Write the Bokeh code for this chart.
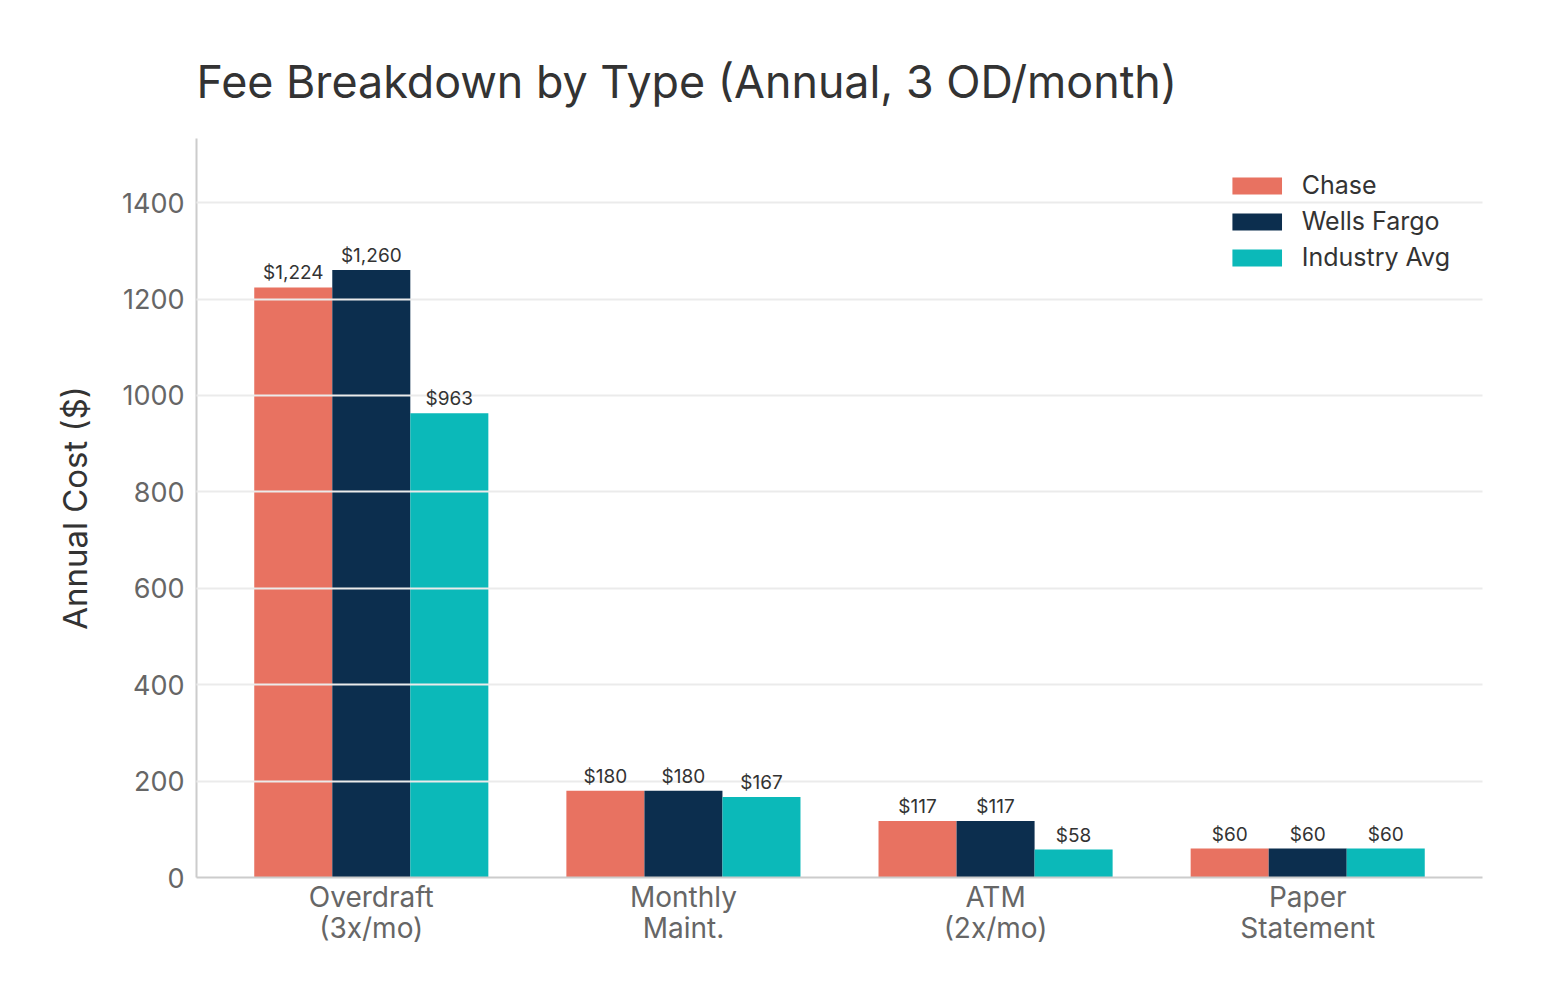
from bokeh.plotting import figure
from bokeh.models import (ColumnDataSource, LabelSet, Legend, LegendItem,
                          FixedTicker, SingleIntervalTicker, Range1d)
from bokeh.core.properties import value
from bokeh.embed import file_html
from bokeh.resources import INLINE

# Данные
categories = ["Overdraft\n(3x/mo)", "Monthly\nMaint.", "ATM\n(2x/mo)", "Paper\nStatement"]
series = ["Chase", "Wells Fargo", "Industry Avg"]
chase = [1224, 180, 117, 60]
wells_fargo = [1260, 180, 117, 60]
industry_avg = [963, 167, 58, 60]
colors = ["#E87261", "#0C2E4E", "#0BB9B9"]

FONT = "Inter"


def create_figure():
    p = figure(width=1527, height=987, output_backend="svg", toolbar_location=None,
               title="Fee Breakdown by Type (Annual, 3 OD/month)",
               x_range=Range1d(-0.56, 3.56), y_range=Range1d(0, 1533),
               min_border_left=196, min_border_right=45,
               min_border_top=138, min_border_bottom=110)
    p.title.text_font = FONT
    p.title.text_font_size = "44.8px"
    p.title.text_font_style = "normal"
    p.title.text_color = "#333333"
    p.title.standoff = 59
    p.outline_line_color = None
    p.xgrid.grid_line_color = None
    p.ygrid.grid_line_color = "#ebebeb"
    p.ygrid.grid_line_width = 2
    p.ygrid.level = "annotation"
    p.ygrid.ticker = SingleIntervalTicker(interval=200)

    for ax in (p.xaxis, p.yaxis):
        ax.axis_line_color = "#cccccc"
        ax.axis_line_width = 2
        ax.major_tick_line_color = None
        ax.minor_tick_line_color = None
        ax.major_label_text_font = FONT
        ax.major_label_text_color = "#666666"

    p.yaxis.ticker = SingleIntervalTicker(interval=200)
    p.yaxis.major_label_text_font_size = "27px"
    p.yaxis.major_label_standoff = 6
    p.yaxis.axis_label = "Annual Cost ($)"
    p.yaxis.axis_label_text_font = FONT
    p.yaxis.axis_label_text_font_style = "normal"
    p.yaxis.axis_label_text_font_size = "33px"
    p.yaxis.axis_label_text_color = "#333333"
    p.yaxis.axis_label_standoff = 24

    p.xaxis.ticker = FixedTicker(ticks=list(range(len(categories))))
    p.xaxis.major_label_overrides = {i: c for i, c in enumerate(categories)}
    p.xaxis.major_label_text_font_size = "28px"
    p.xaxis.major_label_text_line_height = 0.92
    p.xaxis.major_label_standoff = -4
    return p


def add_bars(p):
    items = []
    offsets = [-0.25, 0.0, 0.25]
    for name, vals, color, off in zip(series, [chase, wells_fargo, industry_avg], colors, offsets):
        src = ColumnDataSource(dict(
            x=[i + off for i in range(len(categories))],
            top=vals,
            label=["${:,}".format(v) for v in vals],
        ))
        r = p.vbar(x="x", top="top", width=0.25, source=src, fill_color=color, line_color=None)
        labels = LabelSet(x="x", y="top", text="label", source=src, text_align="center",
                          text_baseline="alphabetic", y_offset=8, text_font=value(FONT),
                          text_font_size="19px", text_color="#333333")
        p.add_layout(labels)
        items.append(LegendItem(label=name, renderers=[r]))
    return items


def add_legend(p, items):
    legend = Legend(items=items, location="top_right", border_line_color=None,
                    background_fill_alpha=0, label_text_font=FONT,
                    label_text_font_size="25px", label_text_color="#333333",
                    glyph_width=62, glyph_height=21, label_standoff=14,
                    label_height=30, spacing=6, padding=10, margin=32)
    p.add_layout(legend)


if __name__ == "__main__":
    p = create_figure()
    items = add_bars(p)
    add_legend(p, items)
    open("out.html", "w").write(file_html(p, INLINE))
